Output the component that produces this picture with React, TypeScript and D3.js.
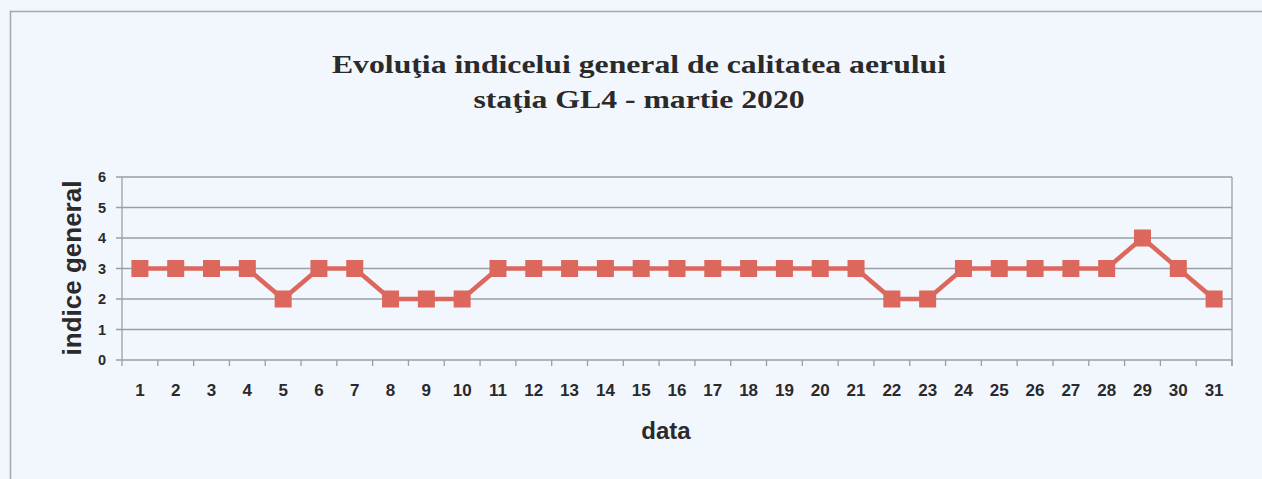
import React from "react";
import * as d3 from "d3";

const days: string[] = Array.from({ length: 31 }, (_, i) => String(i + 1));
const values: number[] = [3, 3, 3, 3, 2, 3, 3, 2, 2, 2, 3, 3, 3, 3, 3, 3, 3, 3, 3, 3, 3, 2, 2, 3, 3, 3, 3, 3, 4, 3, 2];
const yTicks: number[] = [0, 1, 2, 3, 4, 5, 6];
const titleLines: string[] = ["Evoluţia indicelui general de calitatea aerului", "staţia GL4 - martie 2020"];
const xLabel = "data";
const yLabel = "indice general";

export default function App() {
  const W = 1262, H = 479;
  const left = 122, right = 1232, top = 177, bottom = 360;
  const x = d3.scaleBand<string>().domain(days).range([left, right]);
  const y = d3.scaleLinear().domain([0, 6]).range([bottom, top]);
  const cx = (d: string) => (x(d) ?? 0) + x.bandwidth() / 2;
  const line = d3.line<number>().x((_, i) => cx(days[i])).y((v) => y(v));
  const color = "#dc675d";
  const ms = 17;
  const tickEdges = [...days.map((d) => x(d) ?? 0), right];
  const sans = "Liberation Sans, Arial, sans-serif";
  return (
    <svg width={W} height={H} style={{ position: "absolute", left: 0, top: 0, display: "block" }}>
      <rect x={0} y={0} width={W} height={H} fill="#f1f5fc" />
      <rect x={10.5} y={11.5} width={W + 20} height={H + 20} fill="#f2f6fd" stroke="#a4a8ae" strokeWidth={1.5} />
      {titleLines.map((t, i) => (
        <text key={i} transform={`translate(639, ${73 + i * 35}) scale(1.22, 1)`} textAnchor="middle" fontFamily="Liberation Serif, Times New Roman, serif" fontWeight="bold" fontSize={26} fill="#2a2a2a">{t}</text>
      ))}
      {yTicks.map((t) => (
        <g key={t}>
          <line x1={left - 6} x2={right} y1={y(t)} y2={y(t)} stroke="#9a9fa6" strokeWidth={1.3} />
          <text x={left - 16} y={y(t) + 5} textAnchor="end" fontFamily={sans} fontWeight="bold" fontSize={14.5} fill="#2a2a2a">{t}</text>
        </g>
      ))}
      <line x1={left} x2={left} y1={top} y2={bottom} stroke="#9a9fa6" strokeWidth={1.3} />
      <line x1={right} x2={right} y1={top} y2={bottom + 6} stroke="#9a9fa6" strokeWidth={1.3} />
      {tickEdges.map((e, i) => (
        <line key={i} x1={e} x2={e} y1={bottom} y2={bottom + 6} stroke="#9a9fa6" strokeWidth={1.3} />
      ))}
      {days.map((d) => (
        <text key={d} x={cx(d)} y={396} textAnchor="middle" fontFamily={sans} fontWeight="bold" fontSize={17} fill="#2a2a2a">{d}</text>
      ))}
      <text x={666} y={439} textAnchor="middle" fontFamily={sans} fontWeight="bold" fontSize={24} fill="#2a2a2a">{xLabel}</text>
      <text transform={`translate(81, 268) rotate(-90)`} textAnchor="middle" fontFamily={sans} fontWeight="bold" fontSize={26} fill="#2a2a2a">{yLabel}</text>
      <path d={line(values) ?? ""} fill="none" stroke={color} strokeWidth={4.5} strokeLinejoin="round" />
      {values.map((v, i) => (
        <rect key={i} x={cx(days[i]) - ms / 2} y={y(v) - ms / 2} width={ms} height={ms} fill={color} />
      ))}
    </svg>
  );
}
